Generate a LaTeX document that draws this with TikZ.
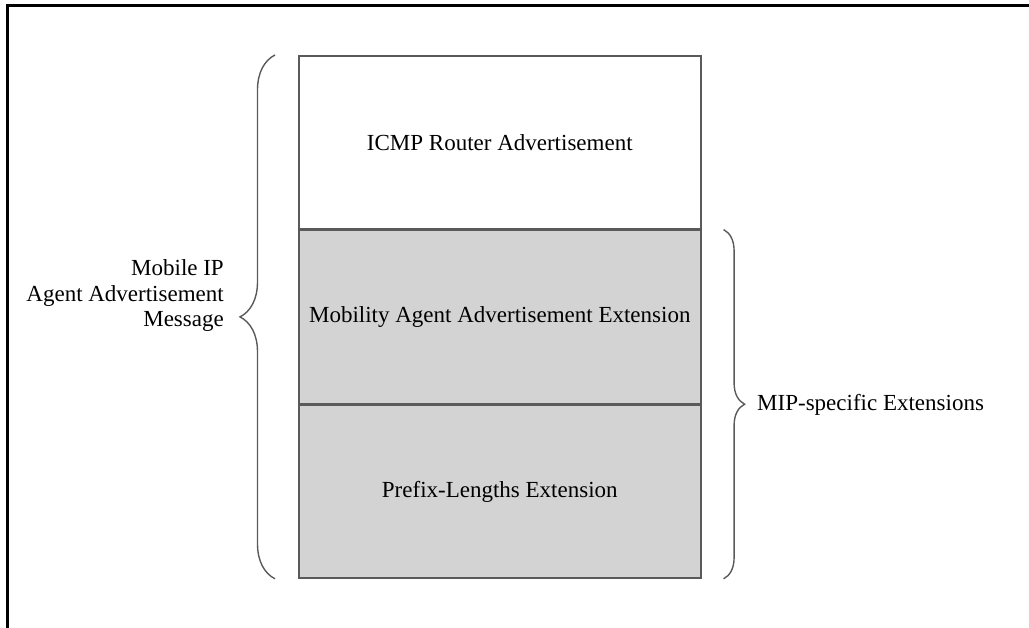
\documentclass[tikz,border=0pt]{standalone}
\usepackage{fontspec}
\setmainfont{Liberation Serif}
\usetikzlibrary{decorations.pathreplacing,calc}
\definecolor{fieldgray}{HTML}{D3D3D3}
\definecolor{edgegray}{HTML}{5A5A5A}
\begin{document}
\begin{tikzpicture}[x=1pt,y=-1pt,
  field/.style={draw=edgegray,line width=1.6pt,minimum width=402pt,minimum height=173pt,
    inner sep=0pt,anchor=north west,font=\fontsize{23}{26}\selectfont},
  label/.style={font=\fontsize{23}{25.5}\selectfont,inner sep=0pt},
  bracket/.style={draw=edgegray,line width=1.4pt,decorate},
  frame/.style={line width=3pt,black}]
  \useasboundingbox (0,0) rectangle (1029,628);
  % outer frame (top and left edges)
  \draw[frame] (1029,6) -- (7.5,6) -- (7.5,628);
  % message layout
  \node[field] (icmp) at (298,55) {ICMP Router Advertisement};
  \node[field,fill=fieldgray] (maae) at (icmp.south west) {Mobility Agent Advertisement Extension};
  \node[field,fill=fieldgray] (ple) at (maae.south west) {Prefix-Lengths Extension};
  % braces
  \coordinate (lbB) at ($(ple.south west)+(-23,0)$);
  \coordinate (lbT) at ($(icmp.north west)+(-23,0)$);
  \draw[bracket,decoration={brace,amplitude=35pt}] (lbB) -- (lbT);
  \coordinate (rbT) at ($(maae.north east)+(22,0)$);
  \coordinate (rbB) at ($(ple.south east)+(22,0)$);
  \draw[bracket,decoration={brace,amplitude=21pt}] (rbT) -- (rbB);
  % labels
  \node[label,align=right,anchor=east] (msg) at (224,296) {Mobile IP\\Agent Advertisement\\Message};
  \node[label,anchor=west] (mip) at (757,405) {MIP-specific Extensions};
\end{tikzpicture}
\end{document}
